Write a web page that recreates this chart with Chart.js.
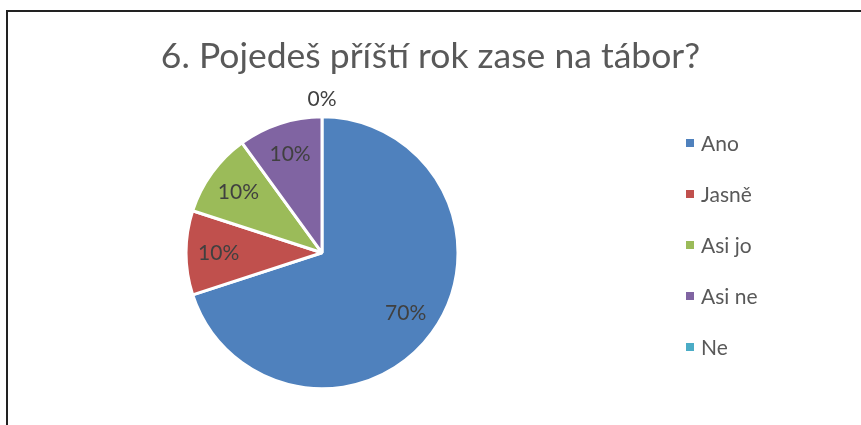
<!DOCTYPE html>
<html>
<head>
<meta charset="utf-8">
<script src="https://cdn.jsdelivr.net/npm/chart.js@4/dist/chart.umd.min.js"></script>
<style>
    html, body { margin: 0; padding: 0; background: #fff; overflow: hidden; }
    #wrap { position: relative; width: 861px; height: 425px; }
    #frame { position: absolute; left: 6px; top: 10px; width: 900px; height: 500px; border: 2px solid #222; box-sizing: border-box; }
    #chart-pie { position: absolute; left: 0; top: 0; }
</style>
</head>
<body>
<div id="wrap">
    <div id="frame"></div>
    <canvas id="chart-pie" width="861" height="425"></canvas>
</div>
<script>
const labels = ['Ano', 'Jasně', 'Asi jo', 'Asi ne', 'Ne'];
const values = [70, 10, 10, 10, 0];
const colors = ['#4F81BD', '#C0504D', '#9BBB59', '#8064A2', '#4BACC6'];
const titleText = '6. Pojedeš příští rok zase na tábor?';
const fontFamily = 'Lato, "Open Sans", sans-serif';

// center the title over the whole canvas, not just the pie area
const titleFull = {
    id: 'titleFull',
    afterLayout(chart) {
        chart.titleBlock.left = 0;
        chart.titleBlock.right = chart.width;
    }
};

// percent labels on the slices
const sliceLabels = {
    id: 'sliceLabels',
    afterDatasetsDraw(chart) {
        const ctx = chart.ctx;
        const meta = chart.getDatasetMeta(0);
        ctx.save();
        ctx.font = '21px ' + fontFamily;
        ctx.fillStyle = '#404040';
        ctx.textAlign = 'center';
        ctx.textBaseline = 'middle';
        meta.data.forEach((arc, i) => {
            const v = chart.data.datasets[0].data[i];
            const mid = (arc.startAngle + arc.endAngle) / 2;
            const r = v > 0 ? arc.outerRadius * 0.76 : arc.outerRadius * 1.13;
            ctx.fillText(v + '%', arc.x + Math.cos(mid) * r, arc.y + Math.sin(mid) * r);
        });
        ctx.restore();
    }
};

// legend on the right, drawn from labels/colors
const sideLegend = {
    id: 'sideLegend',
    afterDraw(chart) {
        const ctx = chart.ctx;
        const x = 686, top = 143, step = 51;
        ctx.save();
        ctx.font = '21px ' + fontFamily;
        ctx.textBaseline = 'middle';
        chart.data.labels.forEach((lab, i) => {
            const y = top + i * step;
            ctx.fillStyle = colors[i];
            ctx.fillRect(x, y - 4, 8, 8);
            ctx.fillStyle = '#595959';
            ctx.fillText(lab, x + 15, y + 1);
        });
        ctx.restore();
    }
};

const chartPie = document.getElementById('chart-pie');
new Chart(chartPie, {
    type: 'pie',
    data: {
        labels: labels,
        datasets: [{
            data: values,
            backgroundColor: colors,
            borderColor: '#ffffff',
            borderWidth: 3,
            radius: 136
        }]
    },
    options: {
        responsive: false,
        animation: false,
        layout: {
            padding: { left: 0, right: 217, bottom: 37 }
        },
        plugins: {
            legend: { display: false },
            tooltip: { enabled: false },
            title: {
                display: true,
                text: titleText,
                color: '#595959',
                font: { family: fontFamily, size: 35.5, weight: 'normal' },
                padding: { top: 35, bottom: 40 }
            }
        }
    },
    plugins: [titleFull, sliceLabels, sideLegend]
});
</script>
</body>
</html>
